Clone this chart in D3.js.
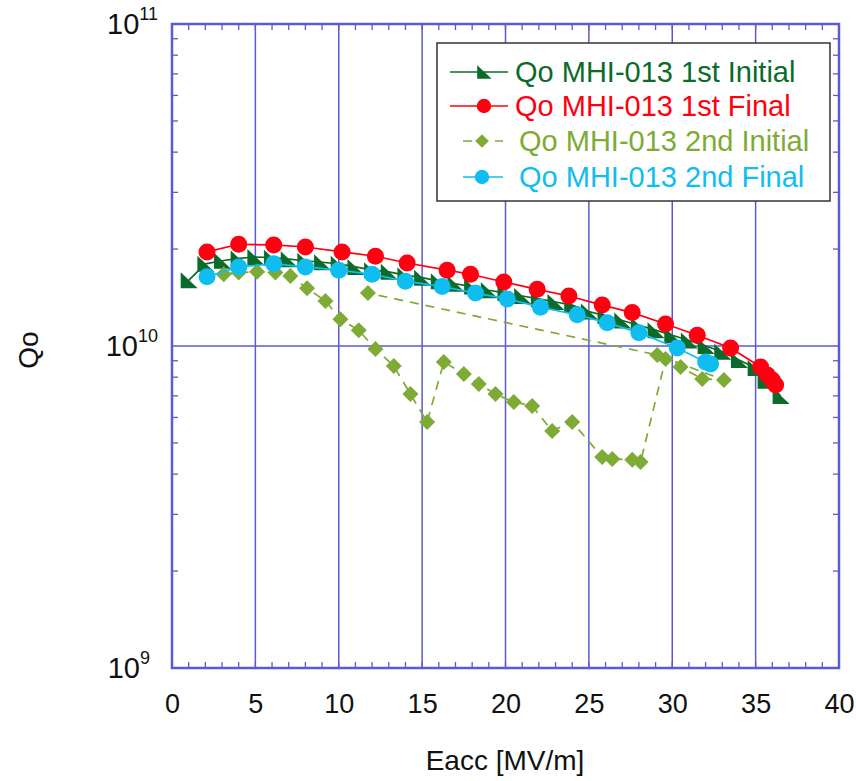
<!doctype html>
<html>
<head>
<meta charset="utf-8">
<script src="https://d3js.org/d3.v7.min.js"></script>
<style>
  body { margin: 0; background: #fff; }
  text { font-family: "Liberation Sans", Arial, sans-serif; }
</style>
</head>
<body>
<svg id="chart" width="856" height="781"></svg>
<script>
// Eacc [MV/m] and Qo (x1e10)
var initial1X = [1, 2, 3, 4, 5, 6, 7, 8, 9, 10, 11, 12, 13, 14, 15, 16, 17, 18, 19, 20,
                 21, 22, 23, 24, 25, 26, 27, 28, 29, 30, 31, 32, 33, 34, 35, 35.6, 36.5];
var initial1Q = [1.60, 1.80, 1.84, 1.87, 1.89, 1.88, 1.86, 1.84, 1.82, 1.80, 1.76, 1.72, 1.70, 1.66, 1.63, 1.59, 1.56, 1.53, 1.49, 1.46,
                 1.43, 1.40, 1.37, 1.34, 1.28, 1.24, 1.20, 1.16, 1.12, 1.08, 1.04, 1.00, 0.96, 0.905, 0.855, 0.78, 0.70];

var final1X = [2.1, 4.0, 6.1, 8.0, 10.2, 12.2, 14.1, 16.5, 17.9, 19.9, 21.9, 23.8, 25.8, 27.6, 29.6, 31.5, 33.5, 35.3, 35.7, 36.0, 36.2];
var final1Q = [1.96, 2.07, 2.06, 2.03, 1.96, 1.90, 1.81, 1.72, 1.67, 1.58, 1.50, 1.43, 1.34, 1.27, 1.17, 1.08, 0.986, 0.861, 0.813, 0.784, 0.757];

var initial2X = [3.1, 4.0, 5.1, 6.2, 7.1, 8.1, 9.2, 10.1, 11.2, 12.2, 13.3, 14.3, 15.3, 16.3, 17.5, 18.4, 19.4, 20.5, 21.6, 22.8,
                 24.0, 25.8, 26.4, 27.6, 28.1, 29.6, 30.5, 31.8, 33.1, 29.1, 11.75];
var initial2Q = [1.67, 1.69, 1.70, 1.69, 1.65, 1.51, 1.38, 1.21, 1.12, 0.979, 0.867, 0.709, 0.581, 0.892, 0.819, 0.762, 0.709, 0.670, 0.651, 0.545,
                 0.581, 0.452, 0.446, 0.443, 0.436, 0.911, 0.861, 0.790, 0.784, 0.938, 1.46];

var final2X = [2.1, 4.0, 6.1, 8.0, 10.0, 12.0, 14.0, 16.2, 18.2, 20.1, 22.1, 24.3, 26.1, 28.0, 30.3, 32.0, 32.3];
var final2Q = [1.64, 1.76, 1.80, 1.76, 1.72, 1.67, 1.59, 1.53, 1.46, 1.40, 1.32, 1.25, 1.18, 1.10, 0.986, 0.892, 0.879];

var seriesNames = ["Qo MHI-013 1st Initial", "Qo MHI-013 1st Final", "Qo MHI-013 2nd Initial", "Qo MHI-013 2nd Final"];
var xTicks = [0, 5, 10, 15, 20, 25, 30, 35, 40];
var yDecades = [9, 10, 11];

var colors = ["#0b6b2b", "#ff0010", "#7eab36", "#0fbdf0"];

var svg = d3.select("#chart");
var plotLeft = 172, plotRight = 839, plotTop = 24, plotBottom = 668;

var x = d3.scaleLinear().domain([0, 40]).range([plotLeft, plotRight]);
var y = d3.scaleLog().domain([1e9, 1e11]).range([plotBottom, plotTop]);

var gridColor = "#5a5ad2";

// grid
svg.append("g").selectAll("line").data(xTicks.slice(1, -1)).enter().append("line")
   .attr("x1", function(d) { return x(d); }).attr("x2", function(d) { return x(d); })
   .attr("y1", plotTop).attr("y2", plotBottom)
   .attr("stroke", gridColor).attr("stroke-width", 1.5);
svg.append("line")
   .attr("x1", plotLeft).attr("x2", plotRight).attr("y1", y(1e10)).attr("y2", y(1e10))
   .attr("stroke", gridColor).attr("stroke-width", 1.5);

// minor ticks, inward
var minorX = d3.range(0, 41);
var ticks = svg.append("g").attr("stroke", gridColor).attr("stroke-width", 1.3);
minorX.forEach(function(v) {
    ticks.append("line").attr("x1", x(v)).attr("x2", x(v)).attr("y1", plotBottom).attr("y2", plotBottom - 6);
    ticks.append("line").attr("x1", x(v)).attr("x2", x(v)).attr("y1", plotTop).attr("y2", plotTop + 6);
});
[9, 10].forEach(function(e) {
    d3.range(2, 10).forEach(function(m) {
        var v = m * Math.pow(10, e);
        ticks.append("line").attr("x1", plotLeft).attr("x2", plotLeft + 6).attr("y1", y(v)).attr("y2", y(v));
        ticks.append("line").attr("x1", plotRight).attr("x2", plotRight - 6).attr("y1", y(v)).attr("y2", y(v));
    });
});

// frame
svg.append("rect").attr("x", plotLeft).attr("y", plotTop)
   .attr("width", plotRight - plotLeft).attr("height", plotBottom - plotTop)
   .attr("fill", "none").attr("stroke", gridColor).attr("stroke-width", 2.5);

// x axis labels
var xAxis = svg.append("g").attr("transform", "translate(0," + plotBottom + ")")
   .call(d3.axisBottom(x).tickValues(xTicks).tickSize(0).tickPadding(26));
xAxis.select(".domain").remove();
xAxis.selectAll("text").attr("font-size", 27).attr("fill", "#111")
   .attr("font-family", "'Liberation Sans', Arial, sans-serif");

// y labels 10^n
var yl = svg.append("g").selectAll("text").data(yDecades).enter().append("text")
   .attr("x", function(d) { return d === 9 ? 150 : 158; })
   .attr("y", function(d) { return y(Math.pow(10, d)) + 10; })
   .attr("text-anchor", "end").attr("fill", "#111");
yl.append("tspan").attr("font-size", 29).text("10");
yl.append("tspan").attr("font-size", 18).attr("dy", -14).text(function(d) { return d; });

svg.append("text").attr("x", 505).attr("y", 770).attr("text-anchor", "middle")
   .attr("font-size", 28).attr("fill", "#111").text("Eacc [MV/m]");
svg.append("text").attr("transform", "translate(38,350) rotate(-90)").attr("text-anchor", "middle")
   .attr("font-size", 28).attr("fill", "#111").text("Qo");

// series
var line = d3.line().x(function(d) { return x(d[0]); }).y(function(d) { return y(d[1] * 1e10); });
function pairs(xs, qs) { return xs.map(function(v, i) { return [v, qs[i]]; }); }

var tri = "M-8,-8L-8,8L9,8Z";
var diamond = "M0,-8L8,0L0,8L-8,0Z";

var data = [
    { pts: pairs(initial1X, initial1Q), color: colors[0], dash: null, shape: "tri" },
    { pts: pairs(final1X, final1Q), color: colors[1], dash: null, shape: "circle" },
    { pts: pairs(initial2X, initial2Q), color: colors[2], dash: "9,7", shape: "diamond" },
    { pts: pairs(final2X, final2Q), color: colors[3], dash: null, shape: "circle" }
];

function drawMarker(g, shape, color) {
    if (shape === "circle") g.append("circle").attr("r", 8.5).attr("fill", color);
    else g.append("path").attr("d", shape === "tri" ? tri : diamond).attr("fill", color);
}

data.forEach(function(s) {
    svg.append("path").attr("d", line(s.pts)).attr("fill", "none")
       .attr("stroke", s.color).attr("stroke-width", 1.7)
       .attr("stroke-dasharray", s.dash);
    s.pts.forEach(function(p) {
        var g = svg.append("g").attr("transform", "translate(" + x(p[0]) + "," + y(p[1] * 1e10) + ")");
        drawMarker(g, s.shape, s.color);
    });
});

// legend
var legend = svg.append("g");
legend.append("rect").attr("x", 437).attr("y", 43).attr("width", 393).attr("height", 158)
   .attr("fill", "#fff").attr("stroke", "#333").attr("stroke-width", 1.5);
var rowsY = [72, 106, 141, 177];
data.forEach(function(s, i) {
    var ly = rowsY[i];
    var x1 = i < 2 ? 450 : 463, x2 = i < 2 ? 508 : 503;
    legend.append("line").attr("x1", x1).attr("x2", x2).attr("y1", ly).attr("y2", ly)
       .attr("stroke", s.color).attr("stroke-width", 1.6).attr("stroke-dasharray", s.dash);
    var g = legend.append("g").attr("transform", "translate(" + (i < 2 ? 484 : 482) + "," + ly + ") scale(0.85)");
    drawMarker(g, s.shape, s.color);
    legend.append("text").attr("x", i < 2 ? 515 : 519).attr("y", ly + 10)
       .attr("font-size", 29).attr("fill", s.color).text(seriesNames[i]);
});
</script>
</body>
</html>
